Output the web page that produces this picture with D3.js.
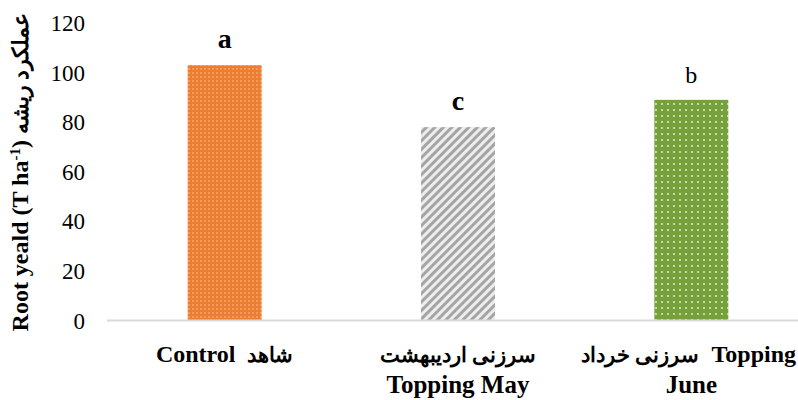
<!DOCTYPE html>
<html>
<head>
<meta charset="utf-8">
<script src="https://cdn.jsdelivr.net/npm/d3@7.9.0/dist/d3.min.js"></script>
<style>
  body { margin: 0; background: #fff; }
  svg text { font-family: "Liberation Serif", "Times New Roman", serif; fill: #000; }
</style>
</head>
<body>
<div id="chart"></div>
<script>
// Data
const categoriesLine1 = ["Control  شاهد", "سرزنی اردیبهشت", "سرزنی خرداد  Topping"];
const categoriesLine2 = ["", "Topping May", "June"];
const yieldValues = [103, 78, 89];
const letters = ["a", "c", "b"];
const yTicks = [0, 20, 40, 60, 80, 100, 120];

const width = 798, height = 400;

const svg = d3.select("#chart")
    .append("svg")
    .attr("width", width)
    .attr("height", height);

// Patterns for the bars
const defs = svg.append("defs");

// orange small checker
const pOrange = defs.append("pattern")
    .attr("id", "pat0")
    .attr("patternUnits", "userSpaceOnUse")
    .attr("width", 4).attr("height", 4);
pOrange.append("rect").attr("width", 4).attr("height", 4).attr("fill", "#ED7D31");
pOrange.append("rect").attr("x", 0).attr("y", 0).attr("width", 2).attr("height", 2)
    .attr("fill", "#F5A96B").attr("opacity", 0.7);

// gray diagonal stripes
const pGray = defs.append("pattern")
    .attr("id", "pat1")
    .attr("patternUnits", "userSpaceOnUse")
    .attr("width", 6).attr("height", 6)
    .attr("patternTransform", "rotate(45)");
pGray.append("rect").attr("width", 6).attr("height", 6).attr("fill", "#EDEDED");
pGray.append("rect").attr("x", 0).attr("y", 0).attr("width", 3).attr("height", 6)
    .attr("fill", "#A5A5A5");

// green with light dots
const pGreen = defs.append("pattern")
    .attr("id", "pat2")
    .attr("patternUnits", "userSpaceOnUse")
    .attr("width", 6).attr("height", 6);
pGreen.append("rect").attr("width", 6).attr("height", 6).attr("fill", "#76A03C");
pGreen.append("rect").attr("x", 1).attr("y", 1).attr("width", 2).attr("height", 2)
    .attr("fill", "#C3DBA2");

// Scales
const x = d3.scaleBand()
    .domain(d3.range(categoriesLine1.length))
    .range([108, 808])
    .paddingInner(0.683)
    .paddingOuter(0.3415);

const y = d3.scaleLinear()
    .domain([0, 120])
    .range([320.5, 23]);

// Y tick labels (no axis line in the original)
svg.append("g")
    .selectAll("text")
    .data(yTicks)
    .join("text")
    .attr("x", 85)
    .attr("y", d => y(d))
    .attr("dy", "0.35em")
    .attr("text-anchor", "end")
    .style("font-size", "23px")
    .text(d => d);

// Bars
svg.selectAll(".bar")
    .data(yieldValues)
    .join("rect")
    .attr("class", "bar")
    .attr("x", (d, i) => x(i))
    .attr("y", d => y(d))
    .attr("width", x.bandwidth())
    .attr("height", d => y(0) - y(d))
    .attr("fill", (d, i) => `url(#pat${i})`);

// Baseline
svg.append("line")
    .attr("x1", 107).attr("x2", width)
    .attr("y1", y(0)).attr("y2", y(0))
    .attr("stroke", "#D9D9D9")
    .attr("stroke-width", 2);

// Significance letters
svg.selectAll(".letter")
    .data(yieldValues)
    .join("text")
    .attr("class", "letter")
    .attr("x", (d, i) => x(i) + x.bandwidth() / 2)
    .attr("y", d => y(d) - 17)
    .attr("text-anchor", "middle")
    .style("font-size", (d, i) => letters[i] === "b" ? "24px" : "28px")
    .style("font-weight", (d, i) => letters[i] === "b" ? "normal" : "bold")
    .text((d, i) => letters[i]);

// split a string into Persian / Latin runs so each can get its own size
function addRuns(sel, str, latinSize, persianSize) {
    const parts = str.split(/([\u0600-\u06FF][\u0600-\u06FF\s]*[\u0600-\u06FF]|[\u0600-\u06FF])/).filter(s => s.length);
    parts.forEach(p => {
        const isFa = /[\u0600-\u06FF]/.test(p);
        sel.append("tspan")
            .style("font-size", (isFa ? persianSize : latinSize) + "px")
            .text(p);
    });
}

// Category labels (two lines)
categoriesLine1.forEach((label, i) => {
    const cx = x(i) + x.bandwidth() / 2;
    const t1 = svg.append("text")
        .attr("x", cx).attr("y", 362)
        .attr("text-anchor", "middle")
        .style("font-weight", "bold")
        .style("white-space", "pre");
    addRuns(t1, label, 24, 21);
    // keep the label inside the picture
    const bb = t1.node().getBBox();
    if (bb.x + bb.width > width - 2) t1.attr("x", cx - (bb.x + bb.width - width + 2));
    svg.append("text")
        .attr("x", cx).attr("y", 393)
        .attr("text-anchor", "middle")
        .style("font-weight", "bold")
        .style("font-size", "25px")
        .text(categoriesLine2[i]);
});

// Y axis title
const yTitle = svg.append("text")
    .attr("transform", "translate(28,172) rotate(-90)")
    .attr("text-anchor", "middle")
    .style("font-weight", "bold")
    .style("font-size", "24px")
    .style("white-space", "pre");
yTitle.append("tspan").text("Root yeald (T ha");
yTitle.append("tspan").attr("dy", -8).style("font-size", "15px").text("-1");
yTitle.append("tspan").attr("dy", 8).text(") ");
yTitle.append("tspan").style("font-size", "22px").text("عملکرد ریشه");
</script>
</body>
</html>
